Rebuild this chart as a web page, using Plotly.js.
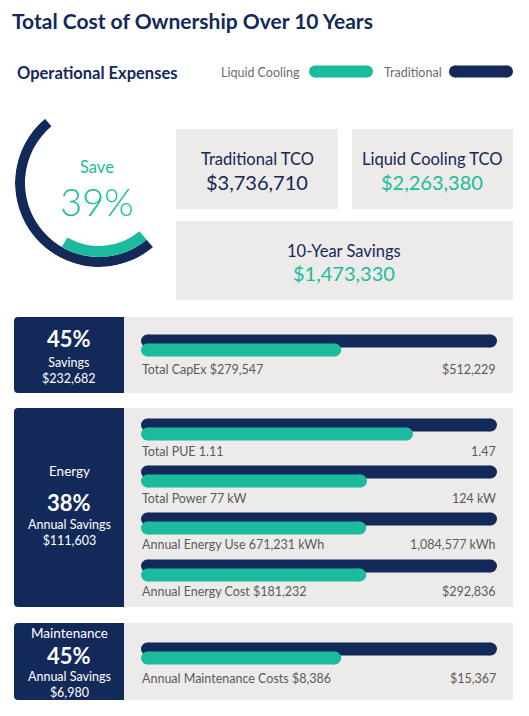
<!DOCTYPE html>
<html>
<head>
<meta charset="utf-8">
<script src="https://cdn.plot.ly/plotly-3.0.1.min.js"></script>
<style>
  html, body { margin: 0; padding: 0; background: #ffffff; }
  #chart { width: 529px; height: 716px; }
</style>
</head>
<body>
<div id="chart"></div>
<script>
var metricLabels = ['Total CapEx', 'Total PUE', 'Total Power', 'Annual Energy Use', 'Annual Energy Cost', 'Annual Maintenance Costs'];
var liquidValues = [279547, 1.11, 77, 671231, 181232, 8386];
var traditionalValues = [512229, 1.47, 124, 1084577, 292836, 15367];
var valuePrefix = ['$', '', '', '', '$', '$'];
var valueSuffix = ['', '', ' kW', ' kWh', '', ''];

var tcoTraditional = 3736710;
var tcoLiquid = 2263380;
var tenYearSavings = 1473330;
var savePercent = 39;

var sectionNames = ['', 'Energy', 'Maintenance'];
var sectionPercents = [45, 38, 45];
var sectionCaptions = ['Savings', 'Annual Savings', 'Annual Savings'];
var sectionAmounts = [232682, 111603, 6980];

var NAVY = '#13295a';
var TEAL = '#1bbc9d';
var CARD = '#edeaea';
var GREY_TEXT = '#5a5a5c';
var FONT = 'Lato, "Open Sans", sans-serif';

var W = 529, H = 716;
function px(x) { return x / W; }
function py(y) { return 1 - y / H; }

function fmt(v) { return v.toLocaleString('en-US'); }

var annotations = [];
function ann(text, x, y, size, color, extra) {
  var a = {
    text: text, x: px(x), y: py(y), xref: 'paper', yref: 'paper',
    showarrow: false, xanchor: 'center', yanchor: 'middle', borderpad: 0,
    font: { family: FONT, size: size, color: color }
  };
  for (var k in extra) a[k] = extra[k];
  annotations.push(a);
}

var shapes = [];
function box(x0, x1, y0, y1, color) {
  shapes.push({ type: 'rect', xref: 'paper', yref: 'paper', layer: 'below',
    x0: px(x0), x1: px(x1), y0: py(y1), y1: py(y0),
    fillcolor: color, line: { width: 0 } });
}
// box with the two left corners rounded
function leftRoundBox(x0, x1, y0, y1, r, color) {
  var p = 'M' + px(x1) + ',' + py(y0) +
    ' L' + px(x0 + r) + ',' + py(y0) +
    ' Q' + px(x0) + ',' + py(y0) + ' ' + px(x0) + ',' + py(y0 + r) +
    ' L' + px(x0) + ',' + py(y1 - r) +
    ' Q' + px(x0) + ',' + py(y1) + ' ' + px(x0 + r) + ',' + py(y1) +
    ' L' + px(x1) + ',' + py(y1) + ' Z';
  shapes.push({ type: 'path', xref: 'paper', yref: 'paper', layer: 'below',
    path: p, fillcolor: color, line: { width: 0 } });
}
function pill(x0, x1, yc, h, color) {
  var r = h / 2;
  box(x0 + r, x1 - r, yc - r, yc + r, color);
  [x0, x1 - h].forEach(function (cx) {
    shapes.push({ type: 'circle', xref: 'paper', yref: 'paper', layer: 'below',
      x0: px(cx), x1: px(cx + h), y0: py(yc + r), y1: py(yc - r),
      fillcolor: color, line: { width: 0 } });
  });
}

// header
ann('<b>Total Cost of Ownership Over 10 Years</b>', 11, 20, 21, NAVY, { xanchor: 'left' });
ann('<b>Operational Expenses</b>', 16, 73, 16.5, NAVY, { xanchor: 'left' });
ann('Liquid Cooling', 301, 72, 12.5, '#6b6b6d', { xanchor: 'right' });
pill(309, 373, 71.5, 12, TEAL);
ann('Traditional', 443, 72, 12.5, '#6b6b6d', { xanchor: 'right' });
pill(449, 513, 71.5, 12, NAVY);

// TCO cards
box(176, 338, 129, 209, CARD);
box(352, 513, 129, 209, CARD);
box(176, 513, 221, 300, CARD);
ann('Traditional TCO', 257, 159, 16.5, NAVY);
ann('$' + fmt(tcoTraditional), 257, 182, 20, NAVY);
ann('Liquid Cooling TCO', 432, 159, 16.5, NAVY);
ann('$' + fmt(tcoLiquid), 432, 182, 20, TEAL);
ann('10-Year Savings', 344, 251, 16.5, NAVY);
ann('$' + fmt(tenYearSavings), 344, 273, 20, TEAL);

// gauge text
ann('Save', 97, 167, 16.5, TEAL);
ann(savePercent + '%', 97, 201, 38, TEAL, { font: { family: FONT, size: 38, color: TEAL, weight: 300 } });

// sections: navy summary block + grey bar panel
var sectionBounds = [[317, 393], [408, 607], [623, 700]];
var sectionTextY = [
  { name: null, pct: 338, cap: 370 },
  { name: 471, pct: 502, cap: 532 },
  { name: 633, pct: 655, cap: 684 }
];
sectionBounds.forEach(function (b, i) {
  box(124, 513, b[0], b[1], CARD);
  leftRoundBox(14, 124, b[0], b[1], 4, NAVY);
  var t = sectionTextY[i];
  if (t.name) ann(sectionNames[i], 69, t.name, 13.5, '#ffffff');
  ann('<b>' + sectionPercents[i] + '%</b>', 69, t.pct, 22, '#ffffff');
  ann(sectionCaptions[i] + '<br>$' + fmt(sectionAmounts[i]), 69, t.cap, 12.5, '#ffffff');
});

// bar rows: navy centre (px) and label line (px)
var rowNavyY = [341, 425, 472, 519, 566, 649];
var rowLabelY = [369, 451, 498, 544, 591, 678];
var BAR_H = 13, GAP = 9;

var data = [];
var layout = {
  width: W, height: H,
  margin: { l: 0, r: 0, t: 0, b: 0 },
  paper_bgcolor: '#ffffff',
  plot_bgcolor: 'rgba(0,0,0,0)',
  showlegend: false,
  hovermode: false,
  shapes: shapes,
  annotations: annotations
};

metricLabels.forEach(function (label, i) {
  var s = i === 0 ? '' : String(i + 1);
  var cn = rowNavyY[i], ct = cn + GAP;
  layout['xaxis' + s] = {
    domain: [px(141 + BAR_H / 2), px(497 - BAR_H / 2)],
    range: [0, traditionalValues[i]],
    visible: false, fixedrange: true, anchor: 'y' + s
  };
  layout['yaxis' + s] = {
    domain: [py(ct + GAP), py(cn - GAP)],
    type: 'category', categoryarray: ['Liquid Cooling', 'Traditional'],
    range: [-1, 2], visible: false, fixedrange: true, anchor: 'x' + s
  };
  data.push({
    type: 'scatter', mode: 'lines+markers', xaxis: 'x' + s, yaxis: 'y' + s,
    x: [0, traditionalValues[i]], y: ['Traditional', 'Traditional'],
    line: { color: NAVY, width: BAR_H }, marker: { color: NAVY, size: BAR_H },
    cliponaxis: false, hoverinfo: 'skip', name: 'Traditional'
  });
  data.push({
    type: 'scatter', mode: 'lines+markers', xaxis: 'x' + s, yaxis: 'y' + s,
    x: [0, liquidValues[i]], y: ['Liquid Cooling', 'Liquid Cooling'],
    line: { color: TEAL, width: BAR_H }, marker: { color: TEAL, size: BAR_H },
    cliponaxis: false, hoverinfo: 'skip', name: 'Liquid Cooling'
  });
  ann(label + ' ' + valuePrefix[i] + fmt(liquidValues[i]) + valueSuffix[i], 141, rowLabelY[i], 12.5, GREY_TEXT, { xanchor: 'left' });
  ann(valuePrefix[i] + fmt(traditionalValues[i]) + valueSuffix[i], 497, rowLabelY[i], 12.5, GREY_TEXT, { xanchor: 'right' });
});

// savings gauge: half ring rotated, teal part = savePercent of the sweep
var GAUGE_START = 130, GAUGE_SWEEP = 180;
var tealSweep = savePercent / 100 * GAUGE_SWEEP;
data.push({
  type: 'barpolar', subplot: 'polar',
  theta: [GAUGE_START + GAUGE_SWEEP / 2], width: [GAUGE_SWEEP],
  base: [74], r: [10],
  marker: { color: NAVY, line: { width: 0 } }, hoverinfo: 'skip'
});
data.push({
  type: 'barpolar', subplot: 'polar',
  theta: [GAUGE_START + GAUGE_SWEEP - tealSweep / 2], width: [tealSweep],
  base: [63], r: [11],
  marker: { color: TEAL, line: { width: 0 } }, hoverinfo: 'skip'
});
layout.polar = {
  domain: { x: [px(15), px(183)], y: [py(267), py(99)] },
  bgcolor: 'rgba(0,0,0,0)',
  radialaxis: { range: [0, 84], visible: false },
  angularaxis: { visible: false, direction: 'counterclockwise', rotation: 0 }
};

Plotly.newPlot('chart', data, layout, { displayModeBar: false, staticPlot: true });
</script>
</body>
</html>
